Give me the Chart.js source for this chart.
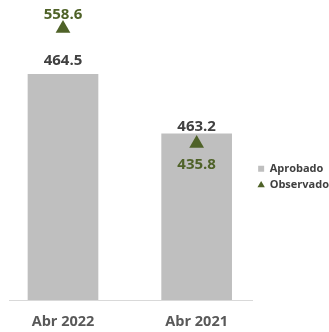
<!DOCTYPE html>
<html>
<head>
<meta charset="utf-8">
<script src="https://cdn.jsdelivr.net/npm/chart.js@4/dist/chart.umd.min.js"></script>
<style>
html,body{margin:0;padding:0;background:#fff;}
#wrap{width:329px;height:332px;position:relative;}
</style>
</head>
<body>
<div id="wrap"><canvas id="c"></canvas></div>
<script>
const categories = ['Abr 2022', 'Abr 2021'];
const aprobado = [464.5, 463.2];
const observado = [558.6, 435.8];
const seriesNames = ['Aprobado', 'Observado'];

const GREY = '#bfbfbf';
const GREEN = '#4f6228';
const axisIds = ['y', 'y2'];
const barLabelOffsets = [-13.4, -6.6];
const pointLabelOffsets = [-14.3, 21.3];

const datasets = [];
categories.forEach((c, i) => {
  datasets.push({
    type: 'bar', label: seriesNames[0], data: [{x: i, y: aprobado[i]}],
    yAxisID: axisIds[i], backgroundColor: GREY, borderWidth: 0,
    barThickness: 70, grouped: false, pointStyle: 'rect', order: 2,
    labelOffset: barLabelOffsets[i], labelColor: '#404040', legendFirst: i === 0
  });
});
categories.forEach((c, i) => {
  datasets.push({
    type: 'line', label: seriesNames[1], data: [{x: i, y: observado[i]}],
    yAxisID: axisIds[i], showLine: false, pointStyle: 'triangle', pointRadius: 8.5,
    pointHoverRadius: 8.5, backgroundColor: GREEN, borderColor: GREEN, pointBorderWidth: 0,
    order: 1, labelOffset: pointLabelOffsets[i], labelColor: GREEN, legendFirst: i === 0
  });
});

const valueLabels = {
  id: 'valueLabels',
  afterDatasetsDraw(chart) {
    const ctx = chart.ctx;
    ctx.save();
    ctx.font = 'bold 15px "Open Sans"';
    ctx.textAlign = 'center';
    ctx.textBaseline = 'middle';
    chart.data.datasets.forEach((ds, di) => {
      const meta = chart.getDatasetMeta(di);
      meta.data.forEach((el, j) => {
        const v = ds.data[j].y;
        ctx.fillStyle = ds.labelColor;
        ctx.fillText(v.toFixed(1), el.x, el.y + ds.labelOffset);
      });
    });
    ctx.restore();
  }
};

new Chart(document.getElementById('c'), {
  data: { datasets },
  options: {
    responsive: true, maintainAspectRatio: false, animation: false,
    layout: { padding: { left: 9, top: 6, right: -10, bottom: 1 } },
    scales: {
      x: {
        type: 'linear', min: -0.404, max: 1.419, offset: false,
        grid: { display: false, drawTicks: false },
        border: { display: true, color: '#d9d9d9', width: 1 },
        afterBuildTicks: (s) => { s.ticks = categories.map((_, i) => ({ value: i })); },
        afterFit: (s) => { s.height = 31; },
        ticks: {
          autoSkip: false, maxRotation: 0, padding: 13,
          color: '#595959', font: { family: 'Open Sans', weight: 'bold', size: 14.5 },
          callback: (v) => categories[v]
        }
      },
      y: { display: false, min: 0, max: 600 },
      y2: { display: false, min: 0, max: 812 }
    },
    plugins: {
      tooltip: { enabled: false },
      legend: {
        position: 'right',
        title: { display: true, text: '', padding: { top: 2.6, bottom: 0 } },
        labels: {
          usePointStyle: true, boxWidth: 6, boxHeight: 6, padding: 5.5,
          color: '#404040', font: { family: 'Open Sans', weight: 'bold', size: 11 },
          filter: (item, data) => data.datasets[item.datasetIndex].legendFirst,
          sort: (a, b) => a.datasetIndex - b.datasetIndex
        }
      }
    }
  },
  plugins: [valueLabels]
});
</script>
</body>
</html>
